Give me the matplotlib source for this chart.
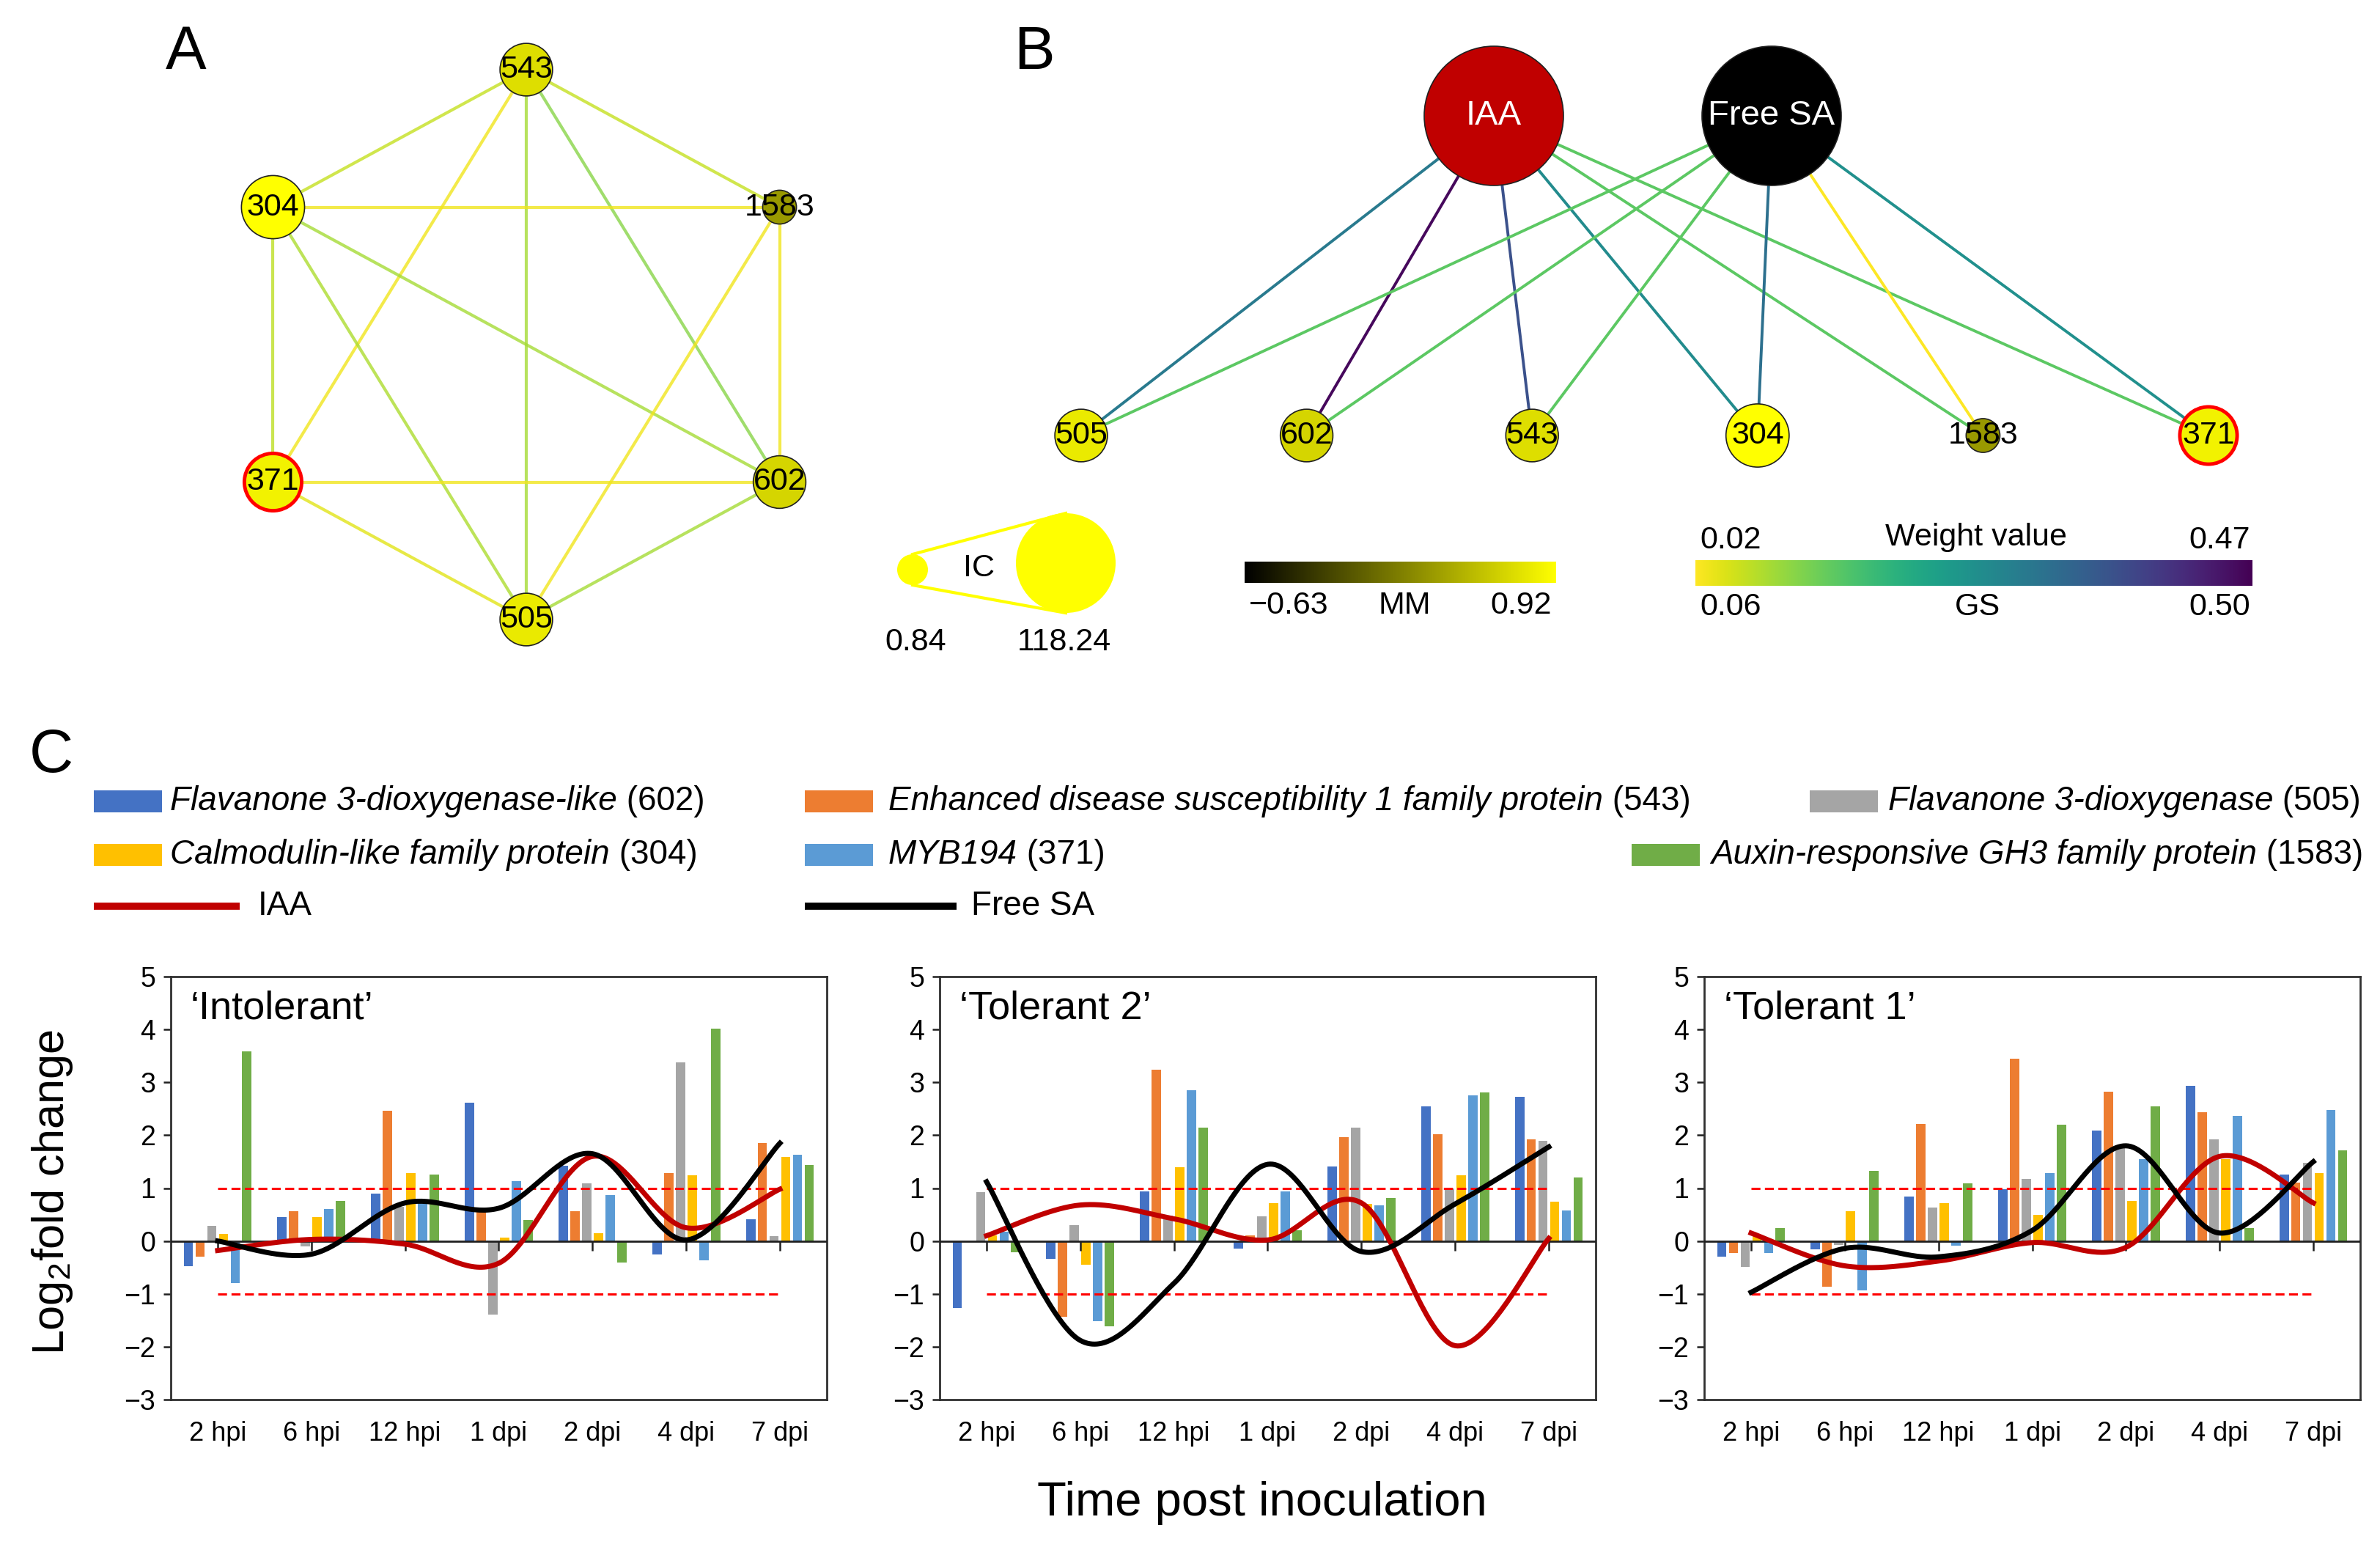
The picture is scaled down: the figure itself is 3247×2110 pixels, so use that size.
import numpy as np
import matplotlib
matplotlib.use("Agg")
import matplotlib.pyplot as plt
from matplotlib.patches import Circle, Rectangle
from matplotlib.colors import LinearSegmentedColormap

plt.rcParams['font.family'] = ['Liberation Sans', 'DejaVu Sans']

W, H = 3248, 2110

# ---------------- network data (panels A and B) ----------------
ring_genes = ['543', '1583', '602', '505', '371', '304']      # clockwise from top
ring_ic = [38, 6, 38, 38, 46, 56]
ring_mm = [0.72, 0.30, 0.66, 0.79, 0.84, 0.92]
hub_gene = '371'

a_pairs = [('543', '304'), ('543', '1583'), ('543', '371'), ('543', '505'), ('543', '602'),
           ('304', '1583'), ('304', '371'), ('304', '505'), ('304', '602'),
           ('1583', '602'), ('1583', '505'), ('371', '602'), ('371', '505'), ('505', '602')]
a_weight = [0.06, 0.06, 0.03, 0.08, 0.10, 0.03, 0.065, 0.075, 0.08, 0.03, 0.03, 0.03, 0.04, 0.08]

b_genes = ['505', '602', '543', '304', '1583', '371']
hormones = ['IAA', 'Free SA']
hormone_colors = ['#C00000', '#000000']
b_pairs = [('IAA', '505'), ('IAA', '602'), ('IAA', '543'), ('IAA', '304'), ('IAA', '1583'), ('IAA', '371'),
           ('Free SA', '505'), ('Free SA', '602'), ('Free SA', '543'), ('Free SA', '304'),
           ('Free SA', '1583'), ('Free SA', '371')]
b_gs = [0.32, 0.49, 0.39, 0.29, 0.17, 0.17, 0.17, 0.17, 0.17, 0.34, 0.06, 0.28]

ic_range = [0.84, 118.24]
mm_range = [-0.63, 0.92]
weight_range = [0.02, 0.47]
gs_range = [0.06, 0.50]

# ---------------- expression data (panel C) ----------------
times = ['2 hpi', '6 hpi', '12 hpi', '1 dpi', '2 dpi', '4 dpi', '7 dpi']
gene_names = ['Flavanone 3-dioxygenase-like', 'Enhanced disease susceptibility 1 family protein',
              'Flavanone 3-dioxygenase', 'Calmodulin-like family protein', 'MYB194',
              'Auxin-responsive GH3 family protein']
gene_ids = ['602', '543', '505', '304', '371', '1583']
bar_colors = ['#4472C4', '#ED7D31', '#A5A5A5', '#FFC000', '#5B9BD5', '#70AD47']

intolerant_bars = [[-0.48, 0.45, 0.90, 2.61, 1.42, -0.26, 0.41],
                   [-0.30, 0.56, 2.46, 0.58, 0.56, 1.28, 1.85],
                   [0.29, -0.10, 0.65, -1.39, 1.09, 3.38, 0.09],
                   [0.14, 0.45, 1.28, 0.07, 0.15, 1.24, 1.59],
                   [-0.79, 0.60, 0.73, 1.13, 0.87, -0.37, 1.63],
                   [3.59, 0.76, 1.25, 0.39, -0.41, 4.01, 1.43]]
intolerant_iaa = [-0.18, 0.03, -0.06, -0.42, 1.60, 0.25, 0.98]
intolerant_sa = [0.00, -0.25, 0.72, 0.62, 1.65, 0.02, 1.85]

tolerant2_bars = [[-1.26, -0.34, 0.94, -0.14, 1.41, 2.55, 2.72],
                  [0.00, -1.44, 3.24, 0.10, 1.96, 2.02, 1.92],
                  [0.93, 0.30, 0.48, 0.46, 2.14, 1.00, 1.90],
                  [0.10, -0.45, 1.39, 0.72, 0.70, 1.24, 0.75],
                  [0.18, -1.51, 2.85, 0.94, 0.67, 2.75, 0.58],
                  [-0.21, -1.61, 2.14, 0.20, 0.81, 2.81, 1.20]]
tolerant2_iaa = [0.10, 0.68, 0.42, 0.02, 0.72, -1.98, 0.05]
tolerant2_sa = [1.12, -1.88, -0.80, 1.45, -0.20, 0.70, 1.78]

tolerant1_bars = [[-0.29, -0.16, 0.84, 0.98, 2.09, 2.93, 1.26],
                  [-0.23, -0.87, 2.21, 3.45, 2.83, 2.43, 1.11],
                  [-0.49, -0.08, 0.63, 1.18, 1.77, 1.92, 1.48],
                  [0.12, 0.57, 0.72, 0.49, 0.76, 1.55, 1.29],
                  [-0.23, -0.93, -0.09, 1.29, 1.55, 2.36, 2.47],
                  [0.25, 1.33, 1.09, 2.20, 2.54, 0.24, 1.71]]
tolerant1_iaa = [0.15, -0.47, -0.38, -0.03, -0.12, 1.60, 0.72]
tolerant1_sa = [-0.97, -0.14, -0.30, 0.20, 1.80, 0.15, 1.50]

panels = [('\u2018Intolerant\u2019', intolerant_bars, intolerant_iaa, intolerant_sa),
          ('\u2018Tolerant 2\u2019', tolerant2_bars, tolerant2_iaa, tolerant2_sa),
          ('\u2018Tolerant 1\u2019', tolerant1_bars, tolerant1_iaa, tolerant1_sa)]


def smooth(xs, ys, n=40):
    # Excel-like smoothed line (Catmull-Rom through the points)
    xs = np.asarray(xs, float)
    ys = np.asarray(ys, float)
    px = np.concatenate([[xs[0]], xs, [xs[-1]]])
    py = np.concatenate([[ys[0]], ys, [ys[-1]]])
    t = np.linspace(0, 1, n)
    ox, oy = [], []
    for i in range(1, len(px) - 2):
        for p, out in ((px, ox), (py, oy)):
            p0, p1, p2, p3 = p[i - 1:i + 3]
            out.append(0.5 * (2 * p1 + (-p0 + p2) * t + (2 * p0 - 5 * p1 + 4 * p2 - p3) * t ** 2
                              + (-p0 + 3 * p1 - 3 * p2 + p3) * t ** 3))
    return np.concatenate(ox), np.concatenate(oy)


def node_r(ic):
    return 21 + 47 * (ic - ic_range[0]) / (ic_range[1] - ic_range[0])


fig = plt.figure(figsize=(W / 100, H / 100), dpi=100)
net = fig.add_axes([0, 0, 1, 1])
net.patch.set_alpha(0)
net.axis('off')

mm_cmap = LinearSegmentedColormap.from_list('mm', ['#000000', '#FFFF00'])
edge_cmap = plt.get_cmap('viridis_r')


def mm_color(v):
    return mm_cmap((v - mm_range[0]) / (mm_range[1] - mm_range[0]))


def draw_node(x, y, r, color, label, red=False, fs=31):
    net.add_patch(Circle((x, y), r, facecolor=color, edgecolor='red' if red else '#202020',
                         lw=3.5 if red else 1.2, zorder=3))
    net.text(x, y, label, ha='center', va='center', fontsize=fs, zorder=4)


# ---- panel A
ang = np.deg2rad(90 - 60 * np.arange(len(ring_genes)))
pos_a = {g: (718 + 399 * np.cos(a), 470 - 375 * np.sin(a)) for g, a in zip(ring_genes, ang)}
for (s, d), w in zip(a_pairs, a_weight):
    c = edge_cmap((w - weight_range[0]) / (weight_range[1] - weight_range[0]))
    net.plot([pos_a[s][0], pos_a[d][0]], [pos_a[s][1], pos_a[d][1]], color=c, lw=3, alpha=0.8, zorder=1)
for g, ic, mm in zip(ring_genes, ring_ic, ring_mm):
    draw_node(*pos_a[g], node_r(ic), mm_color(mm), g, red=(g == hub_gene))

# ---- panel B
pos_b = {g: (x, 594) for g, x in zip(b_genes, np.linspace(1475, 3013, len(b_genes)))}
for h, x in zip(hormones, [2038, 2417]):
    pos_b[h] = (x, 158)
for (s, d), v in zip(b_pairs, b_gs):
    c = edge_cmap((v - gs_range[0]) / (gs_range[1] - gs_range[0]))
    net.plot([pos_b[s][0], pos_b[d][0]], [pos_b[s][1], pos_b[d][1]], color=c, lw=2.8, zorder=1)
for h, c in zip(hormones, hormone_colors):
    net.add_patch(Circle(pos_b[h], 95, facecolor=c, edgecolor='#202020', lw=1.2, zorder=3))
    net.text(*pos_b[h], h, color='white', ha='center', va='center', fontsize=34, zorder=4)
for g in b_genes:
    i = ring_genes.index(g)
    draw_node(*pos_b[g], node_r(ring_ic[i]), mm_color(ring_mm[i]), g, red=(g == hub_gene))

# ---- legends of B
r_small, r_big = node_r(ic_range[0]), node_r(ic_range[1])
net.plot([1245, 1454], [777 - r_small, 768 - r_big], color='#FFFF00', lw=3, zorder=2)
net.plot([1245, 1454], [777 + r_small, 768 + r_big], color='#FFFF00', lw=3, zorder=2)
net.add_patch(Circle((1245, 777), r_small, facecolor='#FFFF00', edgecolor='none', zorder=3))
net.add_patch(Circle((1454, 768), r_big, facecolor='#FFFF00', edgecolor='none', zorder=3))
net.text(1336, 775, 'IC', ha='center', va='center', fontsize=31)
net.text(1249, 876, f'{ic_range[0]:.2f}', ha='center', va='center', fontsize=31)
net.text(1452, 876, f'{ic_range[1]:.2f}', ha='center', va='center', fontsize=31)

grad = np.linspace(0, 1, 256)[None, :]
net.imshow(grad, cmap=mm_cmap, extent=[1698, 2123, 795, 766], aspect='auto', zorder=2)
net.text(1758, 826, f'{mm_range[0]:.2f}'.replace('-', '\u2212'), ha='center', va='center', fontsize=31)
net.text(1916, 826, 'MM', ha='center', va='center', fontsize=31)
net.text(2075, 826, f'{mm_range[1]:.2f}', ha='center', va='center', fontsize=31)

net.imshow(grad, cmap=edge_cmap, extent=[2313, 3073, 799, 764], aspect='auto', zorder=2)
net.text(2361, 737, f'{weight_range[0]:.2f}', ha='center', va='center', fontsize=31)
net.text(2696, 733, 'Weight value', ha='center', va='center', fontsize=31)
net.text(3028, 737, f'{weight_range[1]:.2f}', ha='center', va='center', fontsize=31)
net.text(2361, 828, f'{gs_range[0]:.2f}', ha='center', va='center', fontsize=31)
net.text(2698, 828, 'GS', ha='center', va='center', fontsize=31)
net.text(3028, 828, f'{gs_range[1]:.2f}', ha='center', va='center', fontsize=31)

net.text(254, 72, 'A', ha='center', va='center', fontsize=60)
net.text(1411, 72, 'B', ha='center', va='center', fontsize=60)
net.text(70, 1031, 'C', ha='center', va='center', fontsize=60)

# ---- legend of C
renderer = fig.canvas.get_renderer()
leg_slots = [(128, 232, 1093), (1098, 1212, 1093), (2469, 2576, 1093),
             (128, 232, 1166), (1098, 1212, 1166), (2226, 2334, 1166)]
for (px0, tx, y), name, gid, col in zip(leg_slots, gene_names, gene_ids, bar_colors):
    net.add_patch(Rectangle((px0, y - 15), 93, 30, facecolor=col, edgecolor='none'))
    t = net.text(tx, y, name, style='italic', ha='left', va='center', fontsize=33)
    bb = t.get_window_extent(renderer)
    net.text(tx + bb.width, y, f' ({gid})', ha='left', va='center', fontsize=33)
for (x0, x1, tx), lab, col in zip([(128, 327, 352), (1098, 1305, 1325)], hormones, hormone_colors):
    net.plot([x0, x1], [1236, 1236], color=col, lw=7, solid_capstyle='butt')
    net.text(tx, 1236, lab, ha='left', va='center', fontsize=33)

net.set_xlim(0, W)
net.set_ylim(H, 0)

# ---------------- panel C plots ----------------
x = np.arange(len(times))
offsets = (np.arange(len(gene_ids)) - 2.5) * 0.125
for left, (title, bars, iaa, sa) in zip([233, 1282, 2325], panels):
    ax = fig.add_axes([left / W, 1 - 1909 / H, 895 / W, 577 / H])
    for g in range(len(gene_ids)):
        ax.bar(x + offsets[g], bars[g], width=0.1, color=bar_colors[g], zorder=2)
    ax.axhline(0, color='#202020', lw=2, zorder=3)
    ax.plot(x, np.zeros(len(x)), ls='none', marker=3, ms=9, mew=1.8, color='#202020', zorder=3)
    for lvl in (1, -1):
        ax.plot([x[0], x[-1]], [lvl, lvl], color='#FF0000', lw=2.2, ls=(0, (4, 2)), zorder=3)
    sx, sy = smooth(x, iaa)
    ax.plot(sx, sy, color='#C00000', lw=5, zorder=4)
    sx, sy = smooth(x, sa)
    ax.plot(sx, sy, color='black', lw=5, zorder=5)
    ax.set_xlim(-0.5, len(times) - 0.5)
    ax.set_ylim(-3, 5)
    ax.set_yticks(range(-3, 6))
    ax.set_xticks(x)
    ax.set_xticklabels(times)
    ax.tick_params(axis='x', length=0, pad=21, labelsize=26)
    ax.tick_params(axis='y', length=7, width=1.8, pad=8, labelsize=27, color='#202020')
    for sp in ax.spines.values():
        sp.set_color('#303030')
        sp.set_linewidth(2)
    ax.text(0.03, 0.925, title, transform=ax.transAxes, ha='left', va='center', fontsize=39)

fig.text(72 / W, 1 - 1626 / H, 'Log$_{\\mathregular{2}}$fold change', rotation=90,
         ha='center', va='center', fontsize=44)
fig.text(1722 / W, 1 - 2050 / H, 'Time post inoculation', ha='center', va='center', fontsize=47)

fig.savefig('out.png', dpi=100)
